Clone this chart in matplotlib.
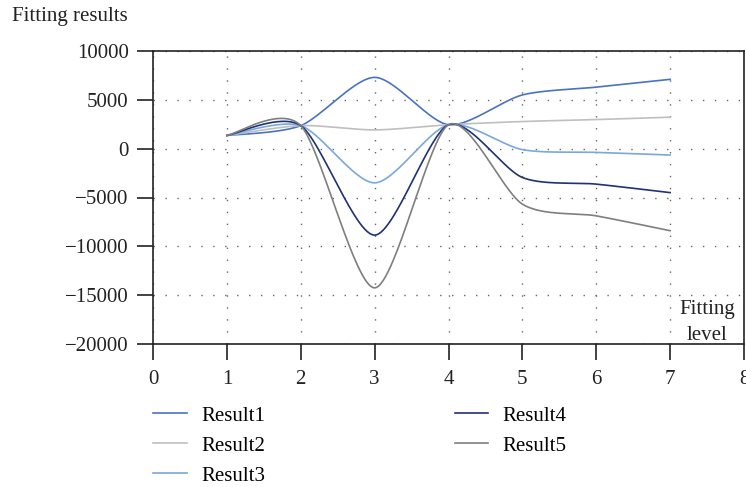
import numpy as np
import matplotlib
matplotlib.use("Agg")
import matplotlib.pyplot as plt

x_levels = [1, 2, 3, 4, 5, 6, 7]
result1 = [1350, 2360, 7300, 2450, 5500, 6300, 7100]
result2 = [1350, 2360, 1920, 2450, 2780, 2980, 3220]
result3 = [1350, 2360, -3500, 2450, -100, -380, -650]
result4 = [1350, 2360, -8850, 2450, -2950, -3630, -4500]
result5 = [1350, 2360, -14250, 2450, -5680, -6880, -8400]
series_names = ["Result1", "Result2", "Result3", "Result4", "Result5"]
colors = ["#4a72c4", "#bfbfbf", "#7aa7dc", "#1f3272", "#7f7f7f"]
x_ticks = [0, 1, 2, 3, 4, 5, 6, 7, 8]
y_ticks = [-20000, -15000, -10000, -5000, 0, 5000, 10000]

plt.rcParams['font.family'] = ['Liberation Serif', 'DejaVu Serif']


def catmull_rom(xs, ys, n=60, tension=0.8):
    xs = np.asarray(xs, float)
    ys = np.asarray(ys, float)
    px = np.concatenate([[xs[0]], xs, [xs[-1]]])
    py = np.concatenate([[ys[0]], ys, [ys[-1]]])
    outx, outy = [], []
    for i in range(1, len(px) - 2):
        x0, x1, x2, x3 = px[i - 1], px[i], px[i + 1], px[i + 2]
        y0, y1, y2, y3 = py[i - 1], py[i], py[i + 1], py[i + 2]
        m1x = tension * (x2 - x0) / 2
        m2x = tension * (x3 - x1) / 2
        m1y = tension * (y2 - y0) / 2
        m2y = tension * (y3 - y1) / 2
        t = np.linspace(0, 1, n)
        h00 = 2 * t**3 - 3 * t**2 + 1
        h10 = t**3 - 2 * t**2 + t
        h01 = -2 * t**3 + 3 * t**2
        h11 = t**3 - t**2
        outx.append(h00 * x1 + h10 * m1x + h01 * x2 + h11 * m2x)
        outy.append(h00 * y1 + h10 * m1y + h01 * y2 + h11 * m2y)
    return np.concatenate(outx), np.concatenate(outy)


fig = plt.figure(figsize=(7.46, 4.87), dpi=100)
ax = fig.add_axes([153 / 746, 1 - 344 / 487, (744 - 153) / 746, (344 - 51) / 487])

all_series = [result1, result2, result3, result4, result5]
handles = []
for name, ys, c in zip(series_names, all_series, colors):
    sx, sy = catmull_rom(x_levels, ys)
    h, = ax.plot(sx, sy, color=c, lw=1.2, label=name)
    handles.append(h)

ax.set_xlim(0, 8)
ax.set_ylim(-20000, 10000)
ax.set_xticks(x_ticks)
ax.set_yticks(y_ticks)
ax.set_yticklabels([f"{v}".replace("-", "\u2212") for v in y_ticks])
ax.tick_params(direction='out', length=11.5, width=1.2, labelsize=15, colors='#222222')
ax.tick_params(axis='x', pad=7)
ax.tick_params(axis='y', pad=6)
for s in ax.spines.values():
    s.set_linewidth(1.2)
    s.set_color('#222222')

ax.grid(True, linestyle=(0, (1, 7.6)), color='#666666', lw=1.0)

fig.text(12 / 746, 1 - 17 / 487, "Fitting results", fontsize=15, ha='left', va='center', color='#222222')
ax.text(7.5, -16500, "Fitting", fontsize=15, ha='center', va='center', color='#222222')
ax.text(7.5, -19100, "level", fontsize=15, ha='center', va='center', color='#222222')

leg = fig.legend(handles=handles, ncol=2, loc='upper left',
                 bbox_to_anchor=(153 / 746, 1 - 406 / 487), frameon=False,
                 borderpad=0, borderaxespad=0,
                 fontsize=15, handlelength=1.63, handletextpad=0.67,
                 columnspacing=9.1, labelspacing=0.5)

fig.savefig("out.png", dpi=100)
